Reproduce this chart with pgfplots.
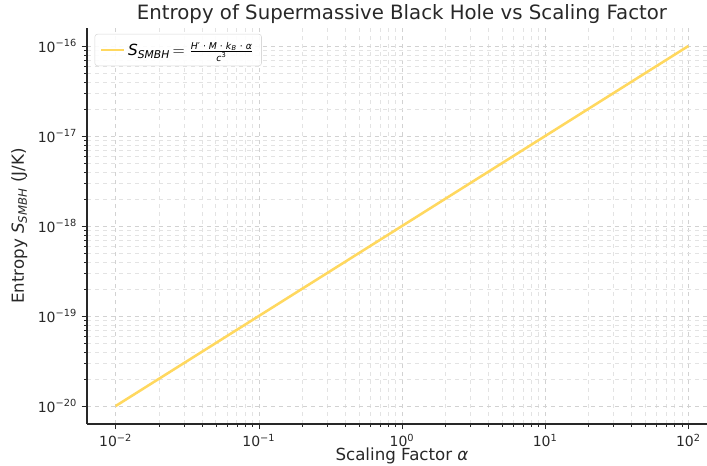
\documentclass[border=0pt]{standalone}
\usepackage{pgfplots}
\pgfplotsset{compat=1.18}
\usepackage{fontspec}
\setmainfont{DejaVu Sans}
\definecolor{linegold}{RGB}{255,216,95}
\definecolor{txt}{RGB}{40,40,40}
\begin{document}
\begin{tikzpicture}
\begin{axis}[
  at={(0,0)}, anchor=south west,
  scale only axis,
  width=472.5pt, height=297pt,
  xmode=log, ymode=log,
  xmin=6.30957e-3, xmax=158.489,
  ymin=6.30957e-21, ymax=1.58489e-16,
  axis x line*=bottom, axis y line*=left,
  axis line style={txt, line width=0.8pt},
  tick align=outside,
  tick style={txt},
  major tick length=4pt, minor tick length=2.2pt,
  grid=both,
  major grid style={dashed, gray!35, line width=0.45pt},
  minor grid style={dashed, gray!22, line width=0.35pt},
  xtick={0.01,0.1,1,10,100},
  xticklabels={10\textsuperscript{−2},10\textsuperscript{−1},10\textsuperscript{0},10\textsuperscript{1},10\textsuperscript{2}},
  ytick={1e-20,1e-19,1e-18,1e-17,1e-16},
  yticklabels={10\textsuperscript{−20},10\textsuperscript{−19},10\textsuperscript{−18},10\textsuperscript{−17},10\textsuperscript{−16}},
  ticklabel style={font=\fontsize{10.5}{12}\selectfont, text=txt},
  xlabel={Scaling Factor \textit{α}},
  ylabel={Entropy \textit{S}\textsubscript{\textit{SMBH}} (J/K)},
  label style={font=\fontsize{12.5}{14}\selectfont, text=txt},
  xlabel style={yshift=6pt},
  ylabel style={yshift=1pt},
  title={Entropy of Supermassive Black Hole vs Scaling Factor},
  title style={font=\fontsize{14.8}{17}\selectfont, text=txt, yshift=-6.5pt},
  legend style={font=\fontsize{11.5}{13}\selectfont, draw=gray!30, rounded corners=2pt, fill=white, fill opacity=0.9, text opacity=1, at={(0.012,0.985)}, anchor=north west, inner xsep=4pt, inner ysep=4pt},
  legend image post style={line width=1.9pt},
  legend cell align=left,
]
\addplot[linegold, line width=1.9pt] coordinates {(0.01,1e-20) (0.1,1e-19) (1,1e-18) (10,1e-17) (100,1e-16)};
\addlegendentry{\textit{S}\textsubscript{\textit{SMBH}}$\,=\frac{\mbox{\fontsize{7}{8}\selectfont\textit{H}′ · \textit{M} · \textit{k}\textsubscript{\textit{B}} · \textit{α}}}{\mbox{\fontsize{7}{8}\selectfont\textit{c}\textsuperscript{3}}}$}
\end{axis}
\pgfresetboundingbox
\path[use as bounding box] (-65.25pt,-30.75pt) rectangle (465pt,318pt);
\end{tikzpicture}
\end{document}
